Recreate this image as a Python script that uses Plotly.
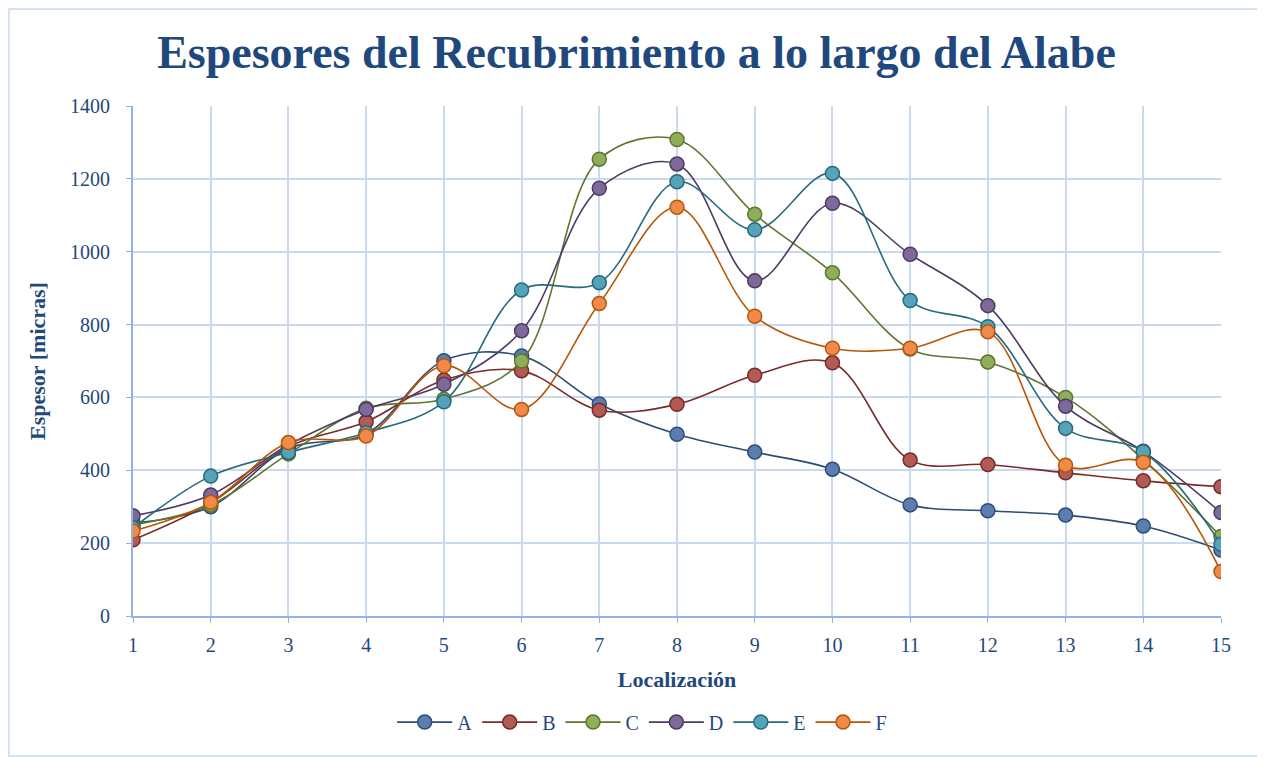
import plotly.graph_objects as go

loc = list(range(1, 16))

A = [255, 300, 460, 500, 701, 714, 582, 499, 450, 403, 305, 289, 277, 247, 181]
B = [209, 310, 465, 533, 648, 673, 565, 581, 661, 695, 428, 416, 393, 371, 355]
C = [250, 305, 445, 570, 595, 700, 1254, 1308, 1103, 942, 733, 697, 600, 430, 218]
D = [275, 332, 470, 567, 636, 783, 1174, 1241, 920, 1133, 993, 852, 576, 452, 284]
E = [242, 384, 449, 503, 588, 895, 915, 1192, 1060, 1215, 866, 794, 515, 451, 197]
F = [233, 312, 476, 494, 687, 567, 858, 1122, 823, 735, 735, 780, 414, 422, 122]

series = {"A": A, "B": B, "C": C, "D": D, "E": E, "F": F}
line_cols = {"A": "#2C4D75", "B": "#772C2A", "C": "#5F7530",
             "D": "#4D3B62", "E": "#276A7C", "F": "#B65708"}
fill_cols = {"A": "#5B7DB0", "B": "#B35A57", "C": "#8FAE5A",
             "D": "#7E6A9A", "E": "#54A3B8", "F": "#F08A4B"}

txt = "#1F497D"
font = "Liberation Serif"

fig = go.Figure()
for name, vals in series.items():
    fig.add_trace(go.Scatter(
        x=loc, y=vals, name=name, mode="lines+markers",
        line=dict(color=line_cols[name], width=1.6, shape="spline", smoothing=1),
        marker=dict(size=14, color=fill_cols[name],
                    line=dict(color=line_cols[name], width=1.5)),
    ))

# the page puts the plot div 8px in from the corner, so the figure is 8px smaller
fig.update_layout(
    width=1257, height=750,
    paper_bgcolor="white", plot_bgcolor="white",
    margin=dict(l=125, r=44, t=98, b=142),
    title=dict(text="<b>Espesores del Recubrimiento a lo largo del Alabe</b>",
               x=0.5, xanchor="center", y=0.941, yanchor="middle",
               font=dict(family=font, size=46, color=txt)),
    font=dict(family=font, size=19, color=txt),
    legend=dict(orientation="h", x=0.468, xanchor="center",
                y=-0.208, yanchor="middle",
                font=dict(family=font, size=20, color=txt), itemwidth=55,
                traceorder="normal"),
    showlegend=True,
)
fig.update_xaxes(range=[1, 15], dtick=1, tick0=1, showgrid=True,
                 gridcolor="#C9DAF0", gridwidth=1.5,
                 showline=True, linecolor="#8EB4E3", linewidth=2,
                 ticks="outside", ticklen=5, tickcolor="#8EB4E3",
                 ticklabelstandoff=5,
                 tickfont=dict(family=font, size=20, color=txt),
                 title=dict(text="<b>Localización</b>", standoff=17,
                            font=dict(family=font, size=22, color=txt)),
                 zeroline=False)
fig.update_yaxes(range=[0, 1400], dtick=200, showgrid=True,
                 gridcolor="#C9DAF0", gridwidth=1.5,
                 showline=True, linecolor="#8EB4E3", linewidth=2,
                 ticks="outside", ticklen=5, tickcolor="#8EB4E3",
                 ticklabelstandoff=12,
                 tickfont=dict(family=font, size=20, color=txt),
                 title=dict(text="<b>Espesor [micras]</b>", standoff=18,
                            font=dict(family=font, size=22, color=txt)),
                 zeroline=False)

# thin frame around the chart area
fig.add_shape(type="rect", xref="paper", yref="paper",
              x0=(1 - 125) / 1088, x1=(1255 - 125) / 1088,
              y0=(608 - 748) / 510, y1=(608 - 1) / 510,
              line=dict(color="#C6D9F1", width=1.5))

fig.write_html("out.html")
